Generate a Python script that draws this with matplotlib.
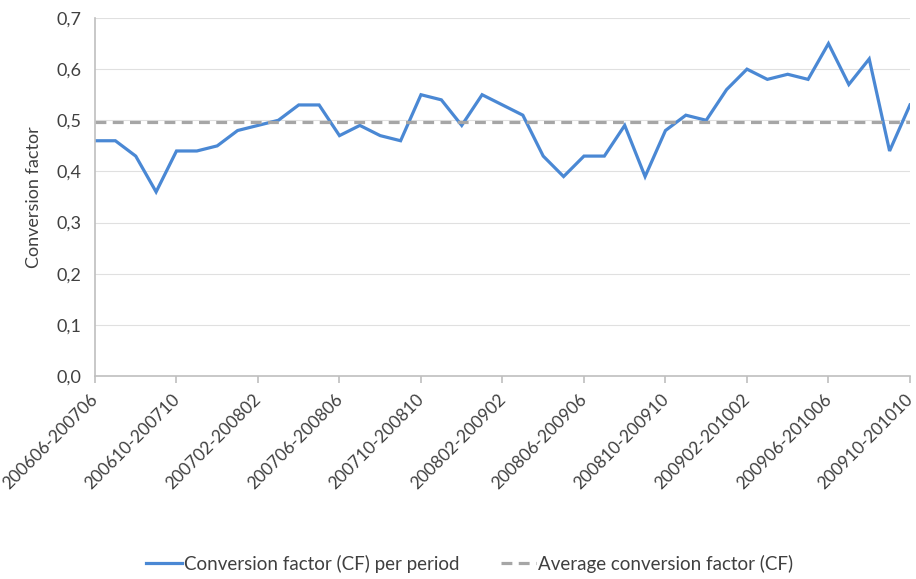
import matplotlib.pyplot as plt
import matplotlib.transforms as mtransforms

# conversion factor per rolling 12-month period (one point per month)
periods = []
for i in range(41):
    y, m = 2006 + (5 + i) // 12, (5 + i) % 12 + 1
    periods.append("%d%02d-%d%02d" % (y, m, y + 1, m))

cf_values = [0.46, 0.46, 0.43, 0.36, 0.44, 0.44, 0.45, 0.48, 0.49, 0.50,
             0.53, 0.53, 0.47, 0.49, 0.47, 0.46, 0.55, 0.54, 0.49, 0.55,
             0.53, 0.51, 0.43, 0.39, 0.43, 0.43, 0.49, 0.39, 0.48, 0.51,
             0.50, 0.56, 0.60, 0.58, 0.59, 0.58, 0.65, 0.57, 0.62, 0.44,
             0.53]
avg_cf = 0.497

y_ticks = [0.0, 0.1, 0.2, 0.3, 0.4, 0.5, 0.6, 0.7]

plt.rcParams['font.family'] = ['Lato', 'DejaVu Sans']

fig = plt.figure(figsize=(9.16, 5.79), dpi=100)
ax = fig.add_axes([0.1037, 0.3506, 0.8897, 0.6183])

x = list(range(len(periods)))
ax.plot(x, cf_values, color='#4a88d4', linewidth=2.3, solid_joinstyle='miter',
        label='Conversion factor (CF) per period')
ax.plot(x, [avg_cf] * len(x), color='#a6a6a6', linewidth=2.3,
        dashes=(3.4, 2.0), label='Average conversion factor (CF)')

ax.set_xlim(0, len(periods) - 1)
ax.set_ylim(0, 0.7)
ax.set_yticks(y_ticks)
ax.set_yticklabels([("%.1f" % v).replace('.', ',') for v in y_ticks], fontsize=13, color='#404040')
ax.set_xticks(x[::4])
ax.set_xticklabels([])
# rotated period labels, nudged a little left so the last one stays inside the figure
offset = mtransforms.ScaledTranslation(-0.05, -0.15, fig.dpi_scale_trans)
for xi in x[::4]:
    ax.text(xi, 0, periods[xi], transform=ax.get_xaxis_transform() + offset,
            rotation=45, ha='right', va='top', rotation_mode='anchor',
            fontsize=12.5, color='#404040')

ax.grid(axis='y', color='#e0e0e0', linewidth=0.8)
ax.set_axisbelow(True)
for s in ['top', 'right']:
    ax.spines[s].set_visible(False)
for s in ['left', 'bottom']:
    ax.spines[s].set_color('#bfbfbf')
    ax.spines[s].set_linewidth(1.2)
ax.tick_params(axis='y', length=0, pad=10)
ax.tick_params(axis='x', length=5, color='#bfbfbf', width=1.2)

ax.set_ylabel('Conversion factor', fontsize=13, color='#404040', labelpad=10)

fig.legend(loc='center', bbox_to_anchor=(0.513, 0.026), ncol=2, frameon=False,
           fontsize=13.5, handlelength=1.9, handletextpad=0.1, columnspacing=2.2,
           labelcolor='#404040')

fig.savefig('out.png', dpi=100)
